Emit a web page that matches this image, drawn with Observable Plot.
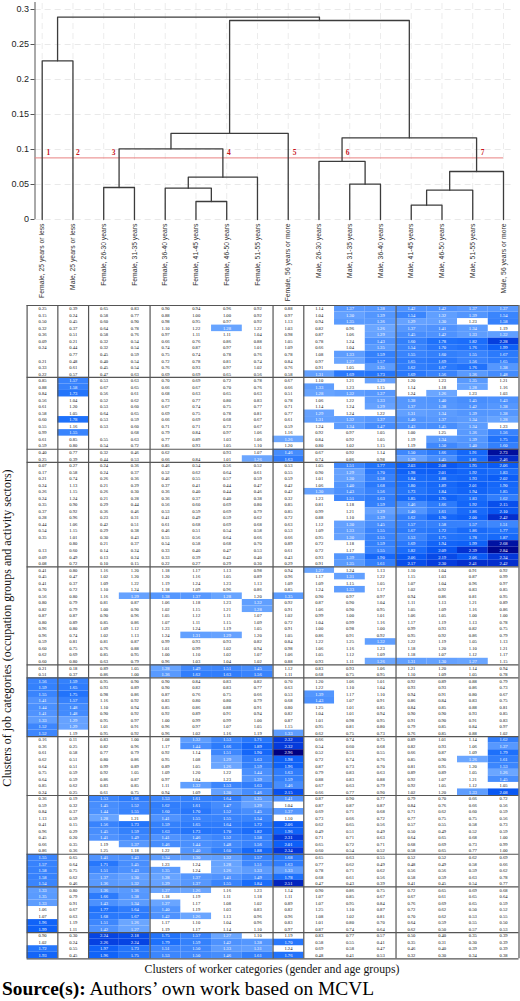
<!DOCTYPE html>
<html><head><meta charset="utf-8">
<script src="https://cdn.jsdelivr.net/npm/d3@7"></script>
<script src="https://cdn.jsdelivr.net/npm/@observablehq/plot@0.6"></script>
<style>
html,body{margin:0;padding:0;background:#fff;width:520px;overflow:hidden}
svg{display:block}
#xt{font:11.75px "Liberation Serif",serif;color:#111;text-align:center;position:absolute;left:144px;width:256px;top:963px;white-space:nowrap}
#src{font:19.4px "Liberation Serif",serif;color:#000;position:absolute;left:2px;top:978px;white-space:nowrap}
</style></head><body>
<div id="chart"></div>
<div id="xt">Clusters of worker categories (gender and age groups)</div>
<div id="src"><b>Source(s):</b> Authors’ own work based on MCVL</div>
<script>
const leaves = ["Female, 25 years or less","Male, 25 years or less","Female, 26-30 years","Female, 31-35 years","Female, 36-40 years","Female, 41-45 years","Female, 46-50 years","Female, 51-55 years","Female, 56 years or more","Male, 26-30 years","Male, 31-35 years","Male, 36-40 years","Male, 41-45 years","Male, 46-50 years","Male, 51-55 years","Male, 56 years or more"];
// merges: left node, right node, height. Nodes 0-15 are leaves, 16+k is merge k.
const merges = [
 [0,1,0.2267],[5,6,0.0257],[4,17,0.0448],[18,7,0.0605],[2,3,0.0457],[20,19,0.101],[21,8,0.1229],
 [10,11,0.0505],[9,23,0.0829],[12,13,0.0205],[25,14,0.0419],[26,15,0.0686],[24,27,0.1167],[22,28,0.2843],[16,29,0.289]
];
const cutHeight = 0.088;
const cutLabels = [["1",0.2],["2",1.16],["3",2.32],["4",6.07],["5",8.21],["6",9.93],["7",14.32]];
const yTicks = [0,0.05,0.1,0.15,0.2,0.25,0.3];
const colBreaks = [1,1,2,4,1,3,4];
const clusterA = [
[.25,.39,.65,.83,.90,.94,.96,.92,.88,1.14,1.37,1.38,1.42,1.42,1.37,1.37],
[.15,.24,.58,.77,.88,1.00,1.00,.92,.97,1.04,1.30,1.39,1.54,1.32,1.39,1.54],
[.50,.45,.60,.90,.98,.95,.97,.92,1.13,.94,1.35,1.36,1.29,1.30,1.23,1.58],
[.32,.37,.64,.78,1.10,1.22,1.28,1.22,1.03,.82,.96,1.26,1.37,1.41,1.34,1.19],
[.36,.51,.58,.76,.97,1.11,1.11,1.04,.98,.87,1.06,1.29,1.45,1.42,1.33,1.32],
[.09,.21,.32,.54,.66,.76,.86,.88,1.05,.78,1.24,1.43,1.60,1.78,1.82,2.28],
[.24,.44,.32,.54,.74,.87,.97,1.01,1.09,.66,1.04,1.35,1.54,1.70,1.76,1.99],
[null,.77,.45,.59,.75,.74,.78,.76,.78,1.08,1.33,1.59,1.55,1.60,1.55,1.67],
[.21,.48,.40,.54,.72,.78,.81,.74,.84,.97,1.27,1.57,1.65,1.69,1.56,1.65],
[.33,.61,.45,.54,.76,.93,.97,1.02,.76,.91,1.05,1.35,1.62,1.67,1.76,1.38],
[.22,.57,.47,.63,.69,.69,.65,.56,.58,1.31,1.69,1.73,1.69,1.56,1.36,1.48]];
const clusterB = [
[.85,1.57,.53,.63,.70,.69,.72,.78,.67,1.10,1.21,1.29,1.20,1.23,1.35,1.21],
[.88,1.58,.67,.65,.66,.67,.70,.76,.66,1.33,1.23,1.15,1.14,1.18,1.28,1.16],
[.84,1.73,.56,.61,.68,.63,.65,.63,.51,1.28,1.32,1.37,1.24,1.26,1.23,1.03],
[.56,1.04,.52,.62,.73,.77,.80,.83,.78,1.06,1.22,1.33,1.38,1.40,1.45,1.43],
[.61,1.20,.53,.60,.67,.74,.75,.77,.71,1.14,1.24,1.29,1.37,1.38,1.42,1.38],
[.58,1.05,.64,.65,.69,.75,.78,.81,.77,1.29,1.24,1.22,1.31,1.34,1.39,1.38],
[.60,1.78,.53,.59,.66,.69,.68,.67,.61,1.31,1.32,1.37,1.40,1.37,1.34,1.28],
[.55,1.16,.53,.60,.71,.71,.73,.67,.59,1.24,1.34,1.47,1.43,1.45,1.34,1.23],
[.99,1.55,null,.68,.79,.84,.97,1.06,1.16,.92,.97,1.05,1.00,1.25,1.36,1.56],
[.61,.85,.55,.63,.77,.89,1.03,1.06,1.26,.84,.92,1.05,1.19,1.34,1.39,1.75],
[.59,.80,.54,.72,.85,.93,1.05,1.10,1.20,.80,1.02,1.15,1.19,1.50,1.40,1.60]];
const clusterC = [
[.40,.77,.32,.46,.62,null,.93,1.07,1.46,.67,.92,1.14,1.50,1.66,1.91,2.73],
[.25,.39,.44,.53,.66,.84,1.01,1.26,1.63,.74,.86,.98,1.29,1.45,1.81,2.46]];
const clusterD = [
[.07,.27,.24,.36,.46,.54,.56,.52,.53,1.05,1.51,1.77,2.03,2.08,1.95,2.06],
[.17,.58,.24,.37,.52,.62,.64,.61,.55,.90,1.29,1.70,1.98,2.01,1.92,1.83],
[.21,.74,.26,.36,.46,.55,.57,.59,.59,1.01,1.30,1.58,1.84,1.88,1.93,2.02],
[.24,1.13,.21,.29,.37,.41,.44,.47,.42,1.06,1.40,1.68,1.80,1.89,2.01,1.90],
[.26,1.15,.26,.30,.36,.40,.44,.46,.42,1.30,1.43,1.56,1.73,1.84,1.94,1.85],
[.24,1.24,.21,.28,.36,.37,.40,.38,.32,1.23,1.51,1.63,1.85,1.95,1.83,1.62],
[.35,.90,.29,.44,.56,.60,.69,.80,.85,.81,1.18,1.59,1.46,1.66,1.92,2.15],
[.37,.92,.36,.46,.53,.59,.69,.79,.85,.99,1.21,1.29,1.40,1.61,1.86,2.10],
[.28,.96,.23,.31,.41,.49,.59,.62,.72,.88,1.10,1.39,1.62,1.90,2.00,2.42],
[.44,1.06,.42,.51,.61,.68,.69,.68,.63,1.12,1.30,1.45,1.57,1.58,1.57,1.51],
[.54,1.15,.29,.38,.46,.51,.54,.58,.53,1.09,1.33,1.55,1.67,1.72,1.86,1.77],
[.35,1.01,.30,.43,.55,.56,.64,.66,.66,.95,1.30,1.55,1.53,1.75,1.78,1.87],
[null,.80,.21,.37,.54,.58,.68,.70,.89,.72,1.18,1.59,1.69,1.94,1.99,2.68],
[.13,.60,.14,.24,.33,.40,.47,.53,.61,.72,1.17,1.55,1.82,2.09,2.39,2.84],
[.09,.49,.13,.24,.33,.39,.42,.40,.43,.93,1.39,1.90,2.06,2.19,2.06,2.34],
[.08,.72,.10,.15,.22,.27,.29,.30,.29,.91,1.35,1.61,2.17,2.30,2.41,2.42]];
const clusterE = [
[.41,.80,1.16,1.20,1.18,1.17,1.13,.98,.94,1.27,1.24,1.13,1.10,1.04,.91,.92],
[.45,.47,1.02,1.20,1.20,1.16,1.05,.89,.96,1.17,1.31,1.22,1.15,1.03,.87,.99],
[.41,.37,1.09,1.22,1.19,1.24,1.23,1.13,1.09,1.09,1.15,1.05,1.07,1.04,.96,.97],
[.70,.72,1.10,1.24,1.18,1.09,.96,.86,.85,1.24,1.33,1.17,1.02,.92,.83,.85],
[.56,.80,1.16,1.29,1.38,1.37,1.28,1.20,1.35,.90,.97,.97,.94,.86,.81,.95],
[.80,.79,.81,.87,1.06,1.18,1.23,1.32,.92,.87,.90,1.04,1.11,1.13,1.21,.89],
[.82,.79,1.00,.90,1.02,1.15,1.21,1.28,.91,1.06,.90,.95,1.05,1.09,1.16,.86],
[.87,.87,.90,.96,1.05,1.12,1.11,1.07,1.02,.99,1.00,1.01,1.06,1.05,1.00,1.00],
[.80,.89,.85,.86,1.07,1.11,1.15,1.09,.72,1.04,.99,1.16,1.17,1.19,1.13,.78],
[.96,.80,1.09,1.12,1.23,1.24,1.19,1.05,.91,1.00,.98,1.00,.99,.93,.82,.75],
[.96,.74,1.02,1.13,1.24,1.31,1.29,1.20,1.05,.86,.91,.92,.95,.92,.86,.79],
[.59,.81,.81,.87,.99,.93,.93,.82,.84,1.22,1.25,1.32,1.22,1.19,1.05,1.13],
[.60,.75,.76,.88,1.01,.99,1.02,.94,.98,1.06,1.16,1.23,1.18,1.20,1.10,1.21],
[.62,.69,.85,.95,1.00,1.10,1.02,1.07,1.06,1.05,1.12,1.09,1.18,1.07,1.12,1.17],
[.60,.80,.63,.79,.96,1.03,1.04,1.02,.88,.93,1.11,1.26,1.31,1.30,1.27,1.15]];
const clusterF = [
[.21,.18,.89,1.05,1.28,1.49,1.51,1.45,1.12,.83,.93,1.06,1.21,1.20,1.14,.94],
[.51,.37,.86,1.00,1.36,1.62,1.63,1.56,1.11,.68,.75,.95,1.10,1.09,1.05,.78]];
const clusterG = [
[1.56,1.59,.95,.90,.90,.84,.83,.82,.70,1.20,1.06,1.01,.92,.89,.88,.79],
[1.59,1.65,.93,.89,.90,.82,.83,.77,.63,1.22,1.10,1.04,.93,.93,.86,.73],
[1.55,1.75,.98,.86,.87,.76,.75,.66,.53,1.39,1.17,1.10,.94,.91,.80,.67],
[1.41,1.57,1.16,.92,.83,.80,.80,.79,.68,1.43,1.07,.91,.86,.84,.83,.75],
[1.44,1.48,1.10,.94,.85,.86,.88,.91,.80,1.25,1.01,.85,.84,.85,.88,.81],
[1.41,1.48,.90,.92,.92,.89,.91,.94,.82,1.04,1.01,.94,.90,.90,.93,.85],
[1.33,1.29,.95,.97,1.00,.99,.99,1.00,.87,1.01,.98,.95,.91,.90,.91,.83],
[1.52,1.29,1.01,.91,.96,.97,1.07,1.05,1.15,.95,.81,.80,.79,.85,.84,.97],
[1.52,1.19,.95,.92,.96,1.02,1.16,1.19,1.33,.62,.75,.73,.76,.85,.88,1.02]];
const clusterH = [
[.16,.11,.83,1.00,1.08,1.32,1.53,1.71,2.32,.66,.74,.75,.89,1.01,1.14,1.62],
[.36,.25,.82,.96,1.17,1.44,1.66,1.89,2.32,.54,.60,.68,.82,.93,1.06,1.37],
[.61,.58,.77,.79,.92,1.14,1.51,1.90,2.96,.52,.51,.55,.66,.87,1.09,1.79],
[.62,.51,.80,.86,.95,1.08,1.29,1.63,1.98,.72,.74,.76,.85,.90,1.26,1.61],
[.64,.51,.99,.89,.89,1.05,1.26,1.59,1.96,.87,.73,.70,.81,.95,1.20,1.53],
[.75,.59,.92,1.05,1.09,1.20,1.22,1.44,1.63,.79,.83,.63,.89,.89,1.05,1.26],
[.64,.59,.86,.87,.97,1.04,1.23,1.39,1.59,.88,.83,.88,.92,1.07,1.21,1.45],
[.85,.62,.83,.85,1.11,1.32,1.53,1.63,1.46,.67,.63,.79,.92,1.05,1.12,1.05],
[.24,.25,.61,.75,.94,1.09,1.30,1.46,2.15,.66,.77,.90,1.02,1.20,1.33,2.08]];
const clusterI = [
[.36,.19,1.53,1.66,1.53,1.61,1.64,1.35,1.41,.87,.90,.77,.79,.70,.66,.72],
[.59,.32,1.45,1.52,1.62,1.61,1.47,1.29,1.04,.87,.87,.87,.84,.76,.66,.56],
[.84,.37,1.44,1.55,1.60,1.70,1.52,1.45,1.37,.69,.71,.68,.71,.62,.60,.59],
[1.13,.59,1.28,1.21,1.41,1.55,1.55,1.54,1.10,.73,.66,.72,.77,.75,.75,.56],
[.41,.15,1.56,1.73,1.59,1.65,1.64,1.72,2.06,.62,.65,.56,.57,.55,.58,.73],
[.96,.29,1.45,1.59,1.63,1.73,1.70,1.82,1.96,.49,.51,.49,.50,.49,.52,.59],
[.45,.20,1.41,1.49,1.41,1.46,1.52,1.58,2.31,.71,.71,.63,.64,.65,.68,1.00],
[.66,.35,1.19,1.37,1.46,1.44,1.48,1.56,2.01,.65,.72,.71,.68,.69,.73,.99],
[.86,.36,1.25,1.18,1.22,1.40,1.60,1.88,2.34,.60,.54,.52,.58,.65,.77,1.00]];
const clusterJ = [
[1.55,.65,1.41,1.43,1.34,1.30,1.32,1.57,1.68,.65,.63,.55,.52,.52,.62,.69],
[1.57,.64,1.71,1.45,1.23,1.24,1.28,1.51,1.63,.77,.62,.49,.48,.49,.58,.66],
[1.58,.75,1.51,1.43,1.35,1.24,1.26,1.33,1.33,.78,.71,.62,.56,.56,.59,.62],
[1.58,.62,1.37,1.30,1.28,1.37,1.41,1.49,1.78,.68,.61,.56,.58,.59,.63,.78],
[1.54,.46,1.36,1.32,1.29,1.37,1.55,1.84,2.51,.47,.43,.39,.41,.45,.54,.77]];
const clusterK = [
[1.33,.80,1.36,1.36,1.27,1.26,1.16,1.23,1.14,.90,.86,.75,.72,.65,.69,.68],
[1.35,.79,1.66,1.38,1.18,1.19,1.11,1.18,1.11,1.07,.85,.67,.67,.61,.65,.64],
[1.33,.91,1.43,1.34,1.27,1.17,1.08,1.02,.89,1.07,.95,.84,.76,.69,.65,.59],
[1.06,.67,1.77,1.64,1.40,1.19,1.03,.83,.82,1.25,1.10,.87,.72,.62,.50,.52],
[1.07,.63,1.68,1.67,1.42,1.26,1.13,.96,.96,1.08,1.02,.81,.70,.62,.53,.55],
[1.96,1.19,1.51,1.26,1.17,1.10,1.04,.96,.83,1.01,.80,.70,.64,.59,.55,.50],
[1.99,1.11,1.42,1.27,1.19,1.17,1.14,1.10,.97,.87,.74,.64,.62,.50,.57,.53]];
const clusterL = [
[.90,.30,2.24,2.18,1.75,1.57,1.27,1.10,1.19,.83,.77,.57,.50,.40,.35,.39],
[1.02,.24,2.26,2.24,1.79,1.59,1.42,1.38,1.70,.58,.55,.41,.35,.31,.30,.39],
[1.72,.55,1.97,1.73,1.51,1.50,1.33,1.31,1.24,.69,.58,.47,.46,.40,.39,.39],
[1.93,.45,1.96,1.75,1.53,1.50,1.46,1.61,1.76,.48,.41,.53,.32,.30,.34,.38]];
const clusters = [clusterA,clusterB,clusterC,clusterD,clusterE,clusterF,clusterG,clusterH,clusterI,clusterJ,clusterK,clusterL];
const threshold = 1.25;
const colorDomain = [1.26,1.5,1.8,2.05,2.35,2.7,2.96];
const colorRange = ["#6ba6ff","#3f88fd","#1c6ffb","#0a5cf6","#0436d8","#0010a0","#000080"];

// dendrogram geometry derived from the merge table
const pos = d3.range(16), hgt = d3.range(16).map(()=>0);
const dendro = [];
merges.forEach(([a,b,h],k)=>{
  dendro.push({m:k,i:a,h:hgt[a]},{m:k,i:a,h},{m:k,i:b,h},{m:k,i:b,h:hgt[b]});
  pos.push((pos[a]+pos[b])/2); hgt.push(h);
});
dendro.forEach(d=>{d.x=pos[d.i];});

const f2 = d=>d.toFixed(2);
const topChart = Plot.plot({
  width:520,height:300,marginLeft:34.5,marginRight:1.5,marginTop:2,marginBottom:81,
  style:{background:"#fff",overflow:"visible"},
  x:{domain:[0,15],range:[41.7,503],axis:null},
  y:{domain:[0,0.31],range:[219,2],axis:null},
  marks:[
    Plot.ruleY(yTicks,{stroke:"#e9e9e9",strokeDasharray:"6 4",x1:-0.23,x2:15.3}),
    Plot.ruleX(d3.range(16),{stroke:"#ececec",strokeDasharray:"6 4",y1:0,y2:0.31}),
    Plot.ruleX([-0.234],{y1:0,y2:0.31,stroke:"#555",strokeWidth:1}),
    Plot.axisY({ticks:yTicks,tickFormat:d=>String(d),tickSize:4,tickPadding:2,fontSize:9,fontFamily:"Liberation Sans",color:"#222",stroke:"#555",anchor:"left",label:null}),
    Plot.ruleY([cutHeight],{x1:-0.23,x2:15,stroke:"#e88080",strokeWidth:1}),
    Plot.line(dendro,{x:"x",y:"h",z:"m",stroke:"#3c3c3c",strokeWidth:1.3,curve:"linear"}),
    Plot.text(cutLabels,{x:d=>d[1],y:0.0957,text:d=>d[0],fill:"#c8161d",fontFamily:"Liberation Serif",fontWeight:"bold",fontSize:7.5}),
    Plot.text(leaves,{x:(d,i)=>i,y:0,text:d=>d,rotate:-90,textAnchor:"end",dy:4,fontSize:6.8,fontFamily:"Liberation Sans",fill:"#333"})
  ]
});

const cells=[], rowBreaks=[0];
let r=0;
clusters.forEach(c=>{c.forEach(row=>{row.forEach((v,j)=>cells.push({r,j,v}));r++;});rowBreaks.push(r);});
const colEdges = d3.cumsum(colBreaks);
const bottomChart = Plot.plot({
  width:520,height:663,marginLeft:0,marginRight:0,marginTop:0,marginBottom:0,
  style:{background:"#fff",overflow:"visible"},
  x:{domain:[0,16],range:[26.6,518.5],axis:null},
  y:{domain:[0,100],range:[5,658.3],axis:null},
  color:{type:"linear",domain:colorDomain,range:colorRange,clamp:true},
  marks:[
    Plot.rect(cells.filter(d=>d.v!==null&&d.v>threshold),{x1:"j",x2:d=>d.j+1,y1:"r",y2:d=>d.r+1,fill:"v"}),
    Plot.text(cells.filter(d=>d.v!==null),{x:d=>d.j+0.5,y:d=>d.r+0.5,text:d=>f2(d.v),fontSize:4.6,fontFamily:"Liberation Serif",fill:d=>d.v>threshold?"#fff":"#111"}),
    Plot.ruleY(rowBreaks,{x1:0,x2:16,stroke:"#555",strokeWidth:1.2}),
    Plot.ruleX([0,...colEdges],{y1:0,y2:100,stroke:"#555",strokeWidth:1.2}),
    Plot.text(["Clusters of job categories (occupation groups and activity sectors)"],{frameAnchor:"left",textAnchor:"middle",dx:7,dy:-4,rotate:-90,text:d=>d,fontSize:12,fontFamily:"Liberation Serif",fill:"#111"})
  ]
});
const host=document.getElementById("chart");
host.append(topChart,bottomChart);
</script></body></html>
